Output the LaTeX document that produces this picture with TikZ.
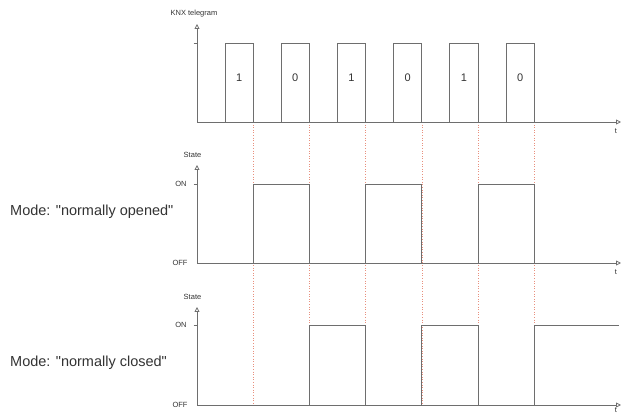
\documentclass[tikz,border=0pt]{standalone}
\usepackage{fontspec}
\setmainfont{Liberation Sans}
\usetikzlibrary{arrows.meta}
\definecolor{axisgray}{HTML}{6E6E6E}
\definecolor{txtgray}{HTML}{333333}
\definecolor{reddot}{HTML}{E8907E}
\begin{document}
\begin{tikzpicture}[x=1pt,y=-1pt,
  sig/.style={draw=axisgray,line width=0.9pt},
  axisline/.style={draw=axisgray,line width=0.8pt,-{Triangle[open,length=5pt,width=5pt]}},
  small/.style={font=\fontsize{7.5}{8}\selectfont,text=txtgray,inner sep=0pt},
  bit/.style={font=\fontsize{11}{12}\selectfont,text=txtgray,inner sep=0pt},
  mode/.style={font=\fontsize{14.5}{16}\selectfont,text=txtgray,inner sep=0pt,anchor=west},
  guide/.style={draw=reddot,line width=0.6pt,dotted}]
\useasboundingbox (0,0) rectangle (622,414);
% guides
\foreach \e in {253.2,309.4,365.6,421.8,478,534.2}
  \draw[guide] (\e,122) -- (\e,405);
% ---- top chart
\coordinate (o1) at (197,122);
\draw[axisline] (o1) -- (197,24);
\draw[axisline] (o1) -- (621,122);
\draw[sig] (193.5,43) -- (197,43);
\node[small] (knx) at (194,14) {KNX telegram};
\node[small] (t1) at (616,131) {t};
\foreach \s/\b [count=\i] in {225/1,281.2/0,337.4/1,393.6/0,449.8/1,506/0}{
  \draw[sig] (\s,122) -- (\s,43) -- (\s+28.2,43) -- (\s+28.2,122);
  \node[bit] (b\i) at (\s+14.1,78) {\b};
}
% ---- middle chart
\coordinate (o2) at (197,263);
\draw[axisline] (o2) -- (197,165);
\draw[axisline] (o2) -- (621,263);
\draw[sig] (193.5,184) -- (197,184);
\node[small] (st2) at (192.5,155) {State};
\node[small] (on2) at (181,184) {ON};
\node[small] (off2) at (180,263) {OFF};
\node[small] (t2) at (616,272) {t};
\draw[sig] (253.2,263) -- (253.2,184) -- (309.4,184) -- (309.4,263);
\draw[sig] (365.6,263) -- (365.6,184) -- (421.8,184) -- (421.8,263);
\draw[sig] (478,263) -- (478,184) -- (534.2,184) -- (534.2,263);
\node[mode] (m1) at (10,212) {Mode: \textquotedbl normally opened\textquotedbl};
% ---- bottom chart
\coordinate (o3) at (197,405);
\draw[axisline] (o3) -- (197,307);
\draw[axisline] (o3) -- (621,405);
\draw[sig] (193.5,325) -- (197,325);
\node[small] (st3) at (192.5,297) {State};
\node[small] (on3) at (181,325) {ON};
\node[small] (off3) at (180,405) {OFF};
\node[small] (t3) at (616,410.5) {t};
\draw[sig] (309.4,405) -- (309.4,325) -- (365.6,325) -- (365.6,405);
\draw[sig] (421.8,405) -- (421.8,325) -- (478,325) -- (478,405);
\draw[sig] (534.2,405) -- (534.2,325) -- (619,325);
\node[mode] (m2) at (10,363) {Mode: \textquotedbl normally closed\textquotedbl};
\end{tikzpicture}
\end{document}
